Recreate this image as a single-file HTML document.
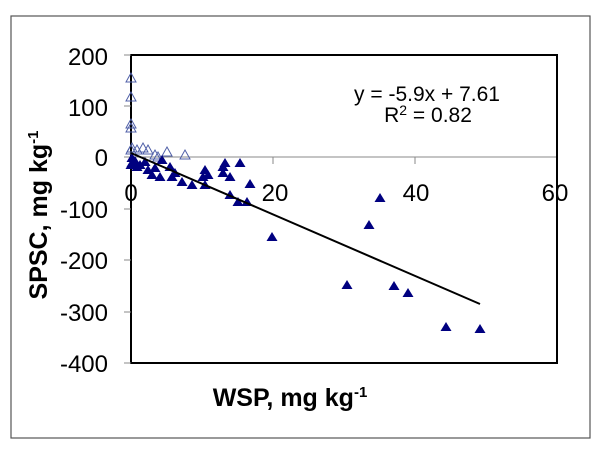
<!DOCTYPE html>
<html><head><style>body{margin:0;background:#fff}svg{display:block}</style></head>
<body>
<svg width="600" height="454" xmlns="http://www.w3.org/2000/svg" font-family="Liberation Sans, Arial, sans-serif">
<defs>
<polygon id="f" points="0,-5 5.5,4 -5.5,4" fill="#000080"/>
<polygon id="o" points="0,-5 5,4 -5,4" fill="none" stroke="#5060a8" stroke-width="1"/>
</defs>
<rect x="11" y="16" width="579" height="422" fill="#fff" stroke="#555" stroke-width="1.2"/>
<line x1="131" y1="157" x2="557" y2="157" stroke="#888" stroke-width="1"/>
<rect x="131" y="55" width="426" height="308" fill="none" stroke="#000" stroke-width="2"/>
<g stroke="#888" stroke-width="1">
<line x1="124" y1="55" x2="131" y2="55"/><line x1="124" y1="106" x2="131" y2="106"/><line x1="124" y1="157" x2="131" y2="157"/><line x1="124" y1="209" x2="131" y2="209"/><line x1="124" y1="260" x2="131" y2="260"/><line x1="124" y1="312" x2="131" y2="312"/><line x1="124" y1="363" x2="131" y2="363"/>
<line x1="273" y1="157" x2="273" y2="164"/><line x1="415" y1="157" x2="415" y2="164"/>
</g>
<g font-size="24" text-anchor="end" fill="#000">
<text x="108" y="65">200</text><text x="108" y="116">100</text><text x="108" y="166">0</text><text x="108" y="218">-100</text><text x="108" y="269">-200</text><text x="108" y="321">-300</text><text x="108" y="372">-400</text>
</g>
<g font-size="24" text-anchor="middle" fill="#000">
<text x="131" y="201">0</text><text x="275" y="201">20</text><text x="416" y="201">40</text><text x="555" y="201">60</text>
</g>
<g>
<use href="#o" x="131" y="78"/><use href="#o" x="131" y="97"/><use href="#o" x="131" y="124"/><use href="#o" x="131" y="128"/><use href="#o" x="131" y="150"/>
<use href="#o" x="132" y="148"/><use href="#o" x="137" y="150"/><use href="#o" x="143" y="148"/><use href="#o" x="148" y="150"/><use href="#o" x="155" y="155"/><use href="#o" x="158" y="157"/><use href="#o" x="167" y="152"/><use href="#o" x="185" y="155"/>
</g>
<g>
<use href="#f" x="132" y="158"/><use href="#f" x="132" y="163"/><use href="#f" x="131" y="165"/><use href="#f" x="135" y="161"/><use href="#f" x="137" y="167"/><use href="#f" x="140" y="165"/><use href="#f" x="145" y="162"/><use href="#f" x="148" y="170"/><use href="#f" x="152" y="175"/><use href="#f" x="155" y="168"/><use href="#f" x="162" y="160"/><use href="#f" x="160" y="177"/><use href="#f" x="170" y="167"/><use href="#f" x="172" y="177"/><use href="#f" x="175" y="173"/><use href="#f" x="182" y="182"/><use href="#f" x="192" y="185"/><use href="#f" x="205" y="170"/><use href="#f" x="203" y="177"/><use href="#f" x="208" y="175"/><use href="#f" x="205" y="185"/><use href="#f" x="223" y="167"/><use href="#f" x="223" y="173"/><use href="#f" x="225" y="163"/><use href="#f" x="230" y="177"/><use href="#f" x="240" y="163"/><use href="#f" x="250" y="184"/><use href="#f" x="230" y="195"/><use href="#f" x="238" y="202"/><use href="#f" x="247" y="202"/>
<use href="#f" x="272" y="237"/><use href="#f" x="380" y="198"/><use href="#f" x="369" y="225"/><use href="#f" x="347" y="285"/><use href="#f" x="394" y="286"/><use href="#f" x="408" y="293"/><use href="#f" x="446" y="327"/><use href="#f" x="480" y="329"/>
</g>
<line x1="131" y1="153" x2="480" y2="304" stroke="#000" stroke-width="2"/>
<text x="427" y="101" font-size="21" text-anchor="middle">y = -5.9x + 7.61</text>
<text x="428" y="122" font-size="21" text-anchor="middle">R<tspan font-size="14" dy="-7">2</tspan><tspan dy="7"> = 0.82</tspan></text>
<text x="290" y="406" font-size="25" font-weight="bold" text-anchor="middle">WSP, mg kg<tspan font-size="15" dy="-9">-1</tspan></text>
<text transform="translate(47,215) rotate(-90)" font-size="25" font-weight="bold" text-anchor="middle">SPSC, mg kg<tspan font-size="15" dy="-9">-1</tspan></text>
</svg>
</body></html>
